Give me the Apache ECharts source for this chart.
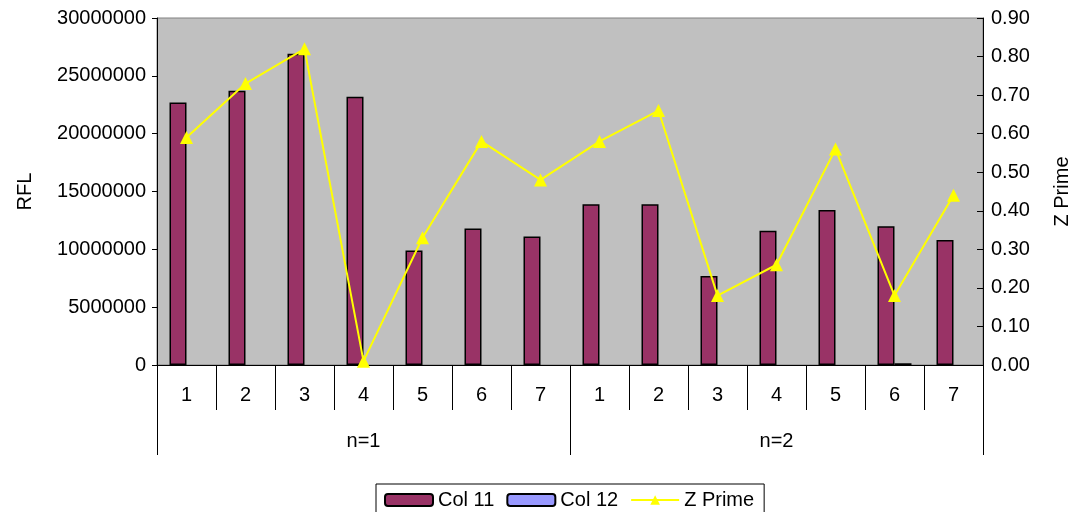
<!DOCTYPE html>
<html>
<head>
<meta charset="utf-8">
<style>
  html, body { margin: 0; padding: 0; background: #fff; }
  #chart { width: 1072px; height: 512px; }
</style>
<script src="https://cdn.jsdelivr.net/npm/echarts@6/dist/echarts.min.js"></script>
</head>
<body>
<div id="chart"></div>
<script>
// Inner categories (well number) and outer groups (n)
const wells = ['1', '2', '3', '4', '5', '6', '7', '1', '2', '3', '4', '5', '6', '7'];
const groups = ['n=1', 'n=2'];

// RFL values
const col11 = [22700000, 23700000, 26900000, 23200000, 9900000, 11800000, 11100000,
               13900000, 13900000, 7700000, 11600000, 13400000, 12000000, 10800000];
const col12 = [0, 0, 0, 0, 0, 0, 0, 0, 0, 0, 0, 0, 150000, 0];

// Z' factor
const zPrime = [0.59, 0.73, 0.82, 0.01, 0.33, 0.58, 0.48,
                0.58, 0.66, 0.18, 0.26, 0.56, 0.18, 0.44];

const FONT = 'Liberation Sans, Arial, sans-serif';
const FS = 20;

// zero-height bars get no outline so they don't leave a stroke on the axis
const withOutline = arr => arr.map(v => v === 0 ? { value: v, itemStyle: { borderWidth: 0 } } : v);

const chart = echarts.init(document.getElementById('chart'));
chart.setOption({
  animation: false,
  textStyle: { fontFamily: FONT, color: '#000' },
  grid: {
    left: 157, right: 89, top: 18, bottom: 147,
    outerBoundsMode: 'none', containLabel: false,
    show: true, backgroundColor: '#c0c0c0', borderColor: '#808080', borderWidth: 1
  },
  legend: {
    left: 376, top: 484,
    data: ['Col 11', 'Col 12', 'Z Prime'],
    itemWidth: 48, itemHeight: 12, itemGap: 12,
    padding: [6, 10, 6, 8],
    borderColor: '#000', borderWidth: 1,
    textStyle: { fontFamily: FONT, fontSize: FS, color: '#000' }
  },
  xAxis: [
    {
      type: 'category', data: wells, position: 'bottom',
      axisLine: { show: true, lineStyle: { color: '#000', width: 1 } },
      axisTick: { show: true, length: 45, lineStyle: { color: '#000' } },
      axisLabel: { fontFamily: FONT, fontSize: FS, color: '#000', margin: 20 }
    },
    {
      type: 'category', data: groups, position: 'bottom',
      axisLine: { show: false },
      axisTick: { show: true, length: 90, lineStyle: { color: '#000' } },
      axisLabel: { fontFamily: FONT, fontSize: FS, color: '#000', margin: 66 }
    }
  ],
  yAxis: [
    {
      type: 'value', min: 0, max: 30000000, interval: 5000000,
      name: 'RFL', nameLocation: 'middle', nameGap: 122, nameRotate: 90,
      nameTextStyle: { fontFamily: FONT, fontSize: FS, color: '#000' },
      axisLine: { show: true, lineStyle: { color: '#000' } },
      axisTick: { show: true, length: 5, lineStyle: { color: '#000' } },
      axisLabel: { fontFamily: FONT, fontSize: FS, color: '#000', margin: 11, formatter: v => String(v) },
      splitLine: { show: false }
    },
    {
      type: 'value', min: 0, max: 0.9, interval: 0.1, position: 'right',
      name: 'Z Prime', nameLocation: 'middle', nameGap: 69, nameRotate: 90,
      nameTextStyle: { fontFamily: FONT, fontSize: FS, color: '#000' },
      axisLine: { show: true, lineStyle: { color: '#000' } },
      axisTick: { show: true, inside: true, length: 6, lineStyle: { color: '#000' } },
      axisLabel: { fontFamily: FONT, fontSize: FS, color: '#000', margin: 8, formatter: v => v.toFixed(2) },
      splitLine: { show: false }
    }
  ],
  series: [
    {
      name: 'Col 11', type: 'bar', data: withOutline(col11), xAxisIndex: 0, yAxisIndex: 0,
      barWidth: 17, barGap: '0%',
      itemStyle: { color: '#993366', borderColor: '#000', borderWidth: 1.5 }
    },
    {
      name: 'Col 12', type: 'bar', data: withOutline(col12), xAxisIndex: 0, yAxisIndex: 0,
      barWidth: 17, barGap: '0%',
      itemStyle: { color: '#9999ff', borderColor: '#000', borderWidth: 1.5 }
    },
    {
      name: 'Z Prime', type: 'line', data: zPrime, xAxisIndex: 0, yAxisIndex: 1,
      symbol: 'triangle', symbolSize: 13, showAllSymbol: true,
      lineStyle: { color: '#ffff00', width: 2 },
      itemStyle: { color: '#ffff00' }
    }
  ]
});
</script>
</body>
</html>
